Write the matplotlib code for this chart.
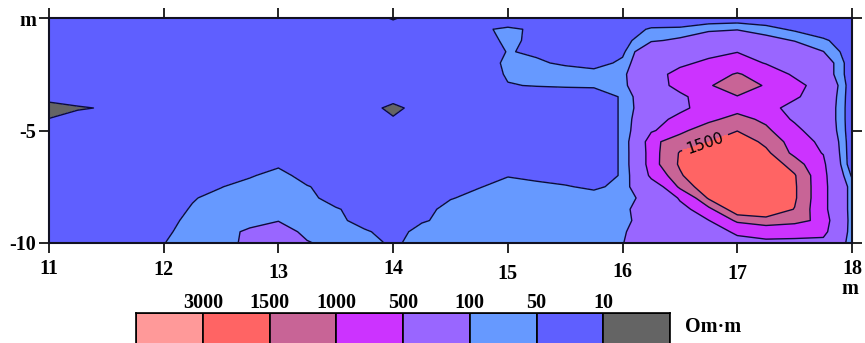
import numpy as np
import matplotlib
matplotlib.use("Agg")
import matplotlib.pyplot as plt

# profile positions, m
dist_m = [11.0, 11.25, 11.5, 11.75, 12.0, 12.25, 12.5, 12.75, 13.0, 13.25,
          13.5, 13.75, 14.0, 14.25, 14.5, 14.75, 15.0, 15.25, 15.5, 15.75,
          16.0, 16.25, 16.5, 16.75, 17.0, 17.25, 17.5, 17.75, 18.0]
depth_m = [0.0, -0.5, -1.0, -1.5, -2.0, -2.5, -3.0, -3.5, -4.0, -4.5, -5.0,
           -5.5, -6.0, -6.5, -7.0, -7.5, -8.0, -8.5, -9.0, -9.5, -10.0]

# resistivity, Om*m (rows follow depth_m, columns follow dist_m)
rho = [
    [30, 30, 30, 30, 30, 30, 30, 30, 30, 30, 30, 30, 8, 30, 30, 30, 30, 30, 30, 30, 30, 30, 30, 30, 30, 30, 30, 30, 30],
    [30, 30, 30, 30, 30, 30, 30, 30, 30, 30, 30, 30, 30, 30, 30, 45, 56, 45, 30, 30, 36, 54, 56, 80, 95, 65, 44, 30, 30],
    [30, 30, 30, 30, 30, 30, 30, 30, 30, 30, 30, 30, 30, 30, 30, 40, 55, 45, 30, 30, 38, 88, 120, 240, 224, 148, 95, 57, 30],
    [30, 30, 30, 30, 30, 30, 30, 30, 30, 30, 30, 30, 30, 30, 30, 30, 52, 45, 30, 30, 42, 316, 251, 355, 490, 316, 224, 102, 30],
    [30, 30, 30, 30, 30, 30, 30, 30, 30, 30, 30, 30, 30, 30, 30, 30, 60, 55, 45, 35, 60, 355, 398, 631, 708, 479, 251, 200, 30],
    [30, 30, 30, 30, 30, 30, 30, 30, 30, 30, 30, 30, 30, 30, 30, 30, 55, 70, 70, 70, 83, 316, 708, 794, 1047, 794, 447, 200, 30],
    [30, 30, 30, 30, 30, 30, 30, 30, 30, 30, 30, 30, 30, 30, 30, 30, 48, 52, 55, 57, 79, 316, 661, 955, 1318, 955, 631, 355, 30],
    [30, 30, 30, 30, 30, 30, 30, 30, 30, 30, 30, 30, 30, 30, 30, 30, 30, 30, 30, 30, 55, 282, 417, 794, 977, 794, 575, 282, 30],
    [3, 8, 12, 30, 30, 30, 30, 30, 30, 30, 30, 30, 5, 30, 30, 30, 30, 30, 30, 30, 55, 251, 417, 708, 832, 708, 355, 251, 30],
    [11, 25, 30, 30, 30, 30, 30, 30, 30, 30, 30, 30, 13, 30, 30, 30, 30, 30, 30, 30, 55, 355, 631, 891, 1202, 891, 447, 251, 30],
    [30, 30, 30, 30, 30, 30, 30, 30, 30, 30, 30, 30, 30, 30, 30, 30, 30, 30, 30, 30, 55, 447, 891, 1318, 1479, 1122, 631, 282, 30],
    [30, 30, 30, 30, 30, 30, 30, 30, 30, 30, 30, 30, 30, 30, 30, 30, 30, 30, 30, 30, 55, 891, 1259, 1479, 1995, 1349, 832, 398, 30],
    [30, 30, 30, 30, 30, 30, 30, 30, 30, 30, 30, 30, 30, 30, 30, 30, 30, 30, 30, 30, 55, 832, 1549, 2188, 2291, 1660, 891, 479, 30],
    [30, 30, 30, 30, 30, 30, 30, 30, 40, 30, 30, 30, 30, 30, 30, 30, 30, 30, 30, 30, 55, 832, 1585, 2291, 2399, 1995, 1259, 631, 30],
    [30, 30, 30, 30, 30, 30, 30, 44, 78, 30, 30, 30, 30, 30, 30, 30, 47, 40, 30, 30, 55, 631, 1413, 2399, 2512, 2291, 1549, 708, 45],
    [30, 30, 30, 30, 30, 30, 48, 77, 71, 54, 30, 30, 30, 30, 30, 47, 75, 62, 55, 40, 71, 282, 1122, 1995, 2512, 2291, 1585, 708, 70],
    [30, 30, 30, 30, 30, 46, 71, 71, 71, 71, 30, 30, 30, 30, 46, 75, 71, 71, 71, 85, 85, 120, 566, 1585, 2399, 2291, 1585, 708, 70],
    [30, 30, 30, 30, 30, 55, 71, 71, 71, 71, 56, 30, 30, 30, 80, 71, 71, 71, 71, 71, 85, 158, 355, 891, 1995, 1995, 1479, 708, 70],
    [30, 30, 30, 30, 30, 75, 71, 71, 95, 71, 71, 30, 30, 44, 71, 71, 71, 71, 71, 71, 85, 141, 251, 490, 1122, 1318, 1148, 891, 70],
    [30, 30, 30, 30, 40, 80, 71, 119, 200, 71, 71, 59, 30, 77, 71, 71, 71, 71, 71, 71, 93, 158, 224, 355, 562, 708, 708, 708, 70],
    [30, 30, 30, 30, 49, 71, 71, 126, 224, 111, 65, 63, 45, 63, 71, 71, 71, 71, 71, 71, 98, 158, 224, 316, 398, 417, 398, 355, 70],
]

class_bounds = [1, 10, 50, 100, 500, 1000, 1500, 3000, 10000]
class_colors = ["#646464", "#5f5fff", "#6699ff", "#9966ff",
                "#cc33ff", "#c86496", "#ff6464", "#ff9999"]
legend_ticks = [3000, 1500, 1000, 500, 100, 50, 10]
labelled_level = 1500
x_ticks = [11, 12, 13, 14, 15, 16, 17, 18]
y_ticks = [0, -5, -10]
y_ticklabels = ["m", "-5", "-10"]

# tick numbers were printed a bit unevenly under the axis
x_label_drop = [16, 17, 20, 16, 21, 19, 21, 16]

serif = {"fontfamily": "Liberation Serif", "fontweight": "bold", "fontsize": 14.5}
line_col = "#0c0c3a"

fig = plt.figure(figsize=(8.65, 3.43), dpi=100)
ax = fig.add_axes([49 / 865, 1 - 243 / 343, 803 / 865, 225 / 343])

log_rho = np.log10(np.array(rho, dtype=float))
lv = np.log10(class_bounds)
ax.contourf(dist_m, depth_m, log_rho, levels=lv, colors=class_colors)

# all isolines except the labelled one, which gets its own set
plain = [np.log10(b) for b in class_bounds[1:-1] if b != labelled_level]
ax.contour(dist_m, depth_m, log_rho, levels=plain,
           colors=line_col, linewidths=1.0)
cs_lab = ax.contour(dist_m, depth_m, log_rho,
                    levels=[np.log10(labelled_level)],
                    colors=line_col, linewidths=1.0)
ax.clabel(cs_lab, fmt=lambda v: f"{10 ** v:.0f}",
          manual=[(16.72, -5.55)], inline=True, fontsize=11, colors="black")

ax.set_xlim(11, 18)
ax.set_ylim(-10, 0)
ax.set_xticks(x_ticks)
ax.set_yticks(y_ticks)
ax.set_yticklabels(y_ticklabels, **serif)
ax.tick_params(direction="out", length=7, width=1.2, color="black",
               top=True, right=True, labelbottom=False, pad=2)
for s in ax.spines.values():
    s.set_linewidth(1.5)
    s.set_color("#111122")

for xv, drop in zip(x_ticks, x_label_drop):
    ax.annotate(str(xv), xy=(xv, 0), xycoords=("data", "axes fraction"),
                xytext=(0, -drop), textcoords="offset pixels",
                ha="center", va="top", **serif)
ax.annotate("m", xy=(18, 0), xycoords=("data", "axes fraction"),
            xytext=(-2, -36), textcoords="offset pixels",
            ha="center", va="top", **serif)

# legend strip along the bottom edge, highest class on the left
cax = fig.add_axes([136 / 865, -3 / 343, 534 / 865, 33 / 343])
n = len(class_colors)
cax.bar(range(n), [1] * n, width=1, align="edge",
        color=class_colors[::-1], edgecolor="black", linewidth=1.2)
cax.set_xlim(0, n)
cax.set_ylim(0, 1)
cax.set_xticks(range(1, n))
cax.set_xticklabels([str(t) for t in legend_ticks], **serif)
cax.xaxis.tick_top()
cax.tick_params(length=0, pad=0)
cax.set_yticks([])
for s in cax.spines.values():
    s.set_linewidth(1.2)

fig.text(685 / 865, 1 - 327 / 343, "Om·m", ha="left", va="center", **serif)

fig.savefig("out.png", dpi=100)
